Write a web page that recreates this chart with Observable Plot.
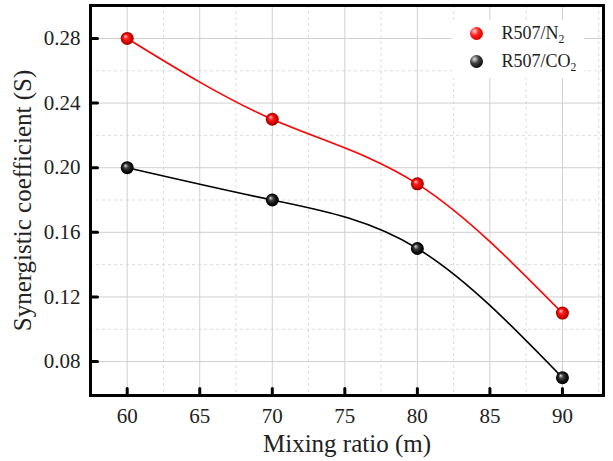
<!DOCTYPE html>
<html><head><meta charset="utf-8">
<script src="https://cdn.jsdelivr.net/npm/d3@7"></script>
<script src="https://cdn.jsdelivr.net/npm/@observablehq/plot@0.6"></script>
<style>
body{margin:0;background:#fff;}
#chart{position:relative;width:613px;height:461px;font-family:"Liberation Serif","Times New Roman",serif;}
#chart svg{display:block;}
.legend{position:absolute;left:452px;top:20px;width:132px;height:58px;background:#fff;font-size:18px;color:#222;}
.item{position:absolute;left:0;height:20px;display:flex;align-items:center;white-space:nowrap;}
.ball{width:13px;height:13px;border-radius:50%;margin-left:17.5px;margin-right:19px;flex:none;}
.ball.red{background:radial-gradient(circle at 35% 32%, #ffd0d0 0%, #ff2020 35%, #e00000 70%, #900000 100%);}
.ball.black{background:radial-gradient(circle at 35% 32%, #e0e0e0 0%, #404040 35%, #101010 70%, #000 100%);}
sub{font-size:65%;vertical-align:-0.35em;line-height:0;}
</style></head><body><div id="chart"></div>
<script>
const ratios = [60, 70, 80, 90];
const n2 = [0.28, 0.23, 0.19, 0.11];
const co2 = [0.20, 0.18, 0.15, 0.07];
const xMajor = [60, 65, 70, 75, 80, 85, 90];
const xMinor = [62.5, 67.5, 72.5, 77.5, 82.5, 87.5, 92.5];
const yMajor = [0.08, 0.12, 0.16, 0.20, 0.24, 0.28];
const yMinor = [0.10, 0.14, 0.18, 0.22, 0.26];

const rowsN2 = ratios.map((m, i) => ({m, s: n2[i]}));
const rowsCO2 = ratios.map((m, i) => ({m, s: co2[i]}));

const tickShape = {draw(c, l) { c.moveTo(0, 0); c.lineTo(0, -l); }};

function defs() {
  const svgNS = "http://www.w3.org/2000/svg";
  const d = document.createElementNS(svgNS, "defs");
  d.innerHTML = `
   <radialGradient id="gRed" cx="0.5" cy="0.5" r="0.5" fx="0.35" fy="0.32">
     <stop offset="0" stop-color="#ffd0d0"/><stop offset="0.35" stop-color="#ff2020"/>
     <stop offset="0.7" stop-color="#e00000"/><stop offset="1" stop-color="#900000"/>
   </radialGradient>
   <radialGradient id="gBlack" cx="0.5" cy="0.5" r="0.5" fx="0.35" fy="0.32">
     <stop offset="0" stop-color="#e0e0e0"/><stop offset="0.35" stop-color="#404040"/>
     <stop offset="0.7" stop-color="#101010"/><stop offset="1" stop-color="#000"/>
   </radialGradient>`;
  return d;
}

const chart = Plot.plot({
  width: 613, height: 461,
  marginLeft: 90, marginRight: 10, marginTop: 5, marginBottom: 66,
  style: {fontFamily: "Liberation Serif, Times New Roman, serif", fontSize: "21px", color: "#222", background: "#fff"},
  x: {domain: [57.47, 92.83]},
  y: {domain: [0.059, 0.3004]},
  marks: [
    defs,
    Plot.gridX(xMinor, {stroke: "#d4d4d4", strokeOpacity: 1, strokeDasharray: "3,3", strokeWidth: 0.8}),
    Plot.gridY(yMinor, {stroke: "#d4d4d4", strokeOpacity: 1, strokeDasharray: "3,3", strokeWidth: 0.8}),
    Plot.gridX(xMajor, {stroke: "#d0d0d0", strokeOpacity: 1, strokeWidth: 1}),
    Plot.gridY(yMajor, {stroke: "#d0d0d0", strokeOpacity: 1, strokeWidth: 1}),
    Plot.line(rowsN2, {x: "m", y: "s", stroke: "#ff0000", strokeWidth: 1.6, curve: "natural"}),
    Plot.line(rowsCO2, {x: "m", y: "s", stroke: "#000", strokeWidth: 1.6, curve: "natural"}),
    Plot.dot(rowsN2, {x: "m", y: "s", r: 6.5, fill: "url(#gRed)", stroke: "none"}),
    Plot.dot(rowsCO2, {x: "m", y: "s", r: 6.5, fill: "url(#gBlack)", stroke: "none"}),
    Plot.axisX(xMajor, {tickSize: 0, tickPadding: 13, fontSize: 21, label: null}),
    Plot.axisY(yMajor, {tickSize: 0, tickPadding: 10, fontSize: 21, label: null, tickFormat: d3.format(".2f")}),
    Plot.vector(xMajor, {x: d => d, frameAnchor: "bottom", length: 7, rotate: 0, anchor: "start", shape: tickShape, stroke: "#000", strokeWidth: 3}),
    Plot.vector(yMajor, {y: d => d, frameAnchor: "left", length: 7, rotate: 90, anchor: "start", shape: tickShape, stroke: "#000", strokeWidth: 3}),
    Plot.frame({stroke: "#000", strokeWidth: 3}),
    Plot.text(["Mixing ratio (m)"], {frameAnchor: "bottom", dy: 48, lineAnchor: "middle", textAnchor: "middle", fontSize: 25, fill: "#222"}),
    Plot.text(["Synergistic coefficient (S)"], {frameAnchor: "left", dx: -68, rotate: -90, lineAnchor: "middle", textAnchor: "middle", fontSize: 25, fill: "#222"})
  ]
});

const root = document.getElementById("chart");
root.appendChild(chart);
const legend = document.createElement("div");
legend.className = "legend";
legend.innerHTML = `
  <div class="item" style="top:3px"><span class="ball red"></span><span>R507/N<sub>2</sub></span></div>
  <div class="item" style="top:31px"><span class="ball black"></span><span>R507/CO<sub>2</sub></span></div>`;
root.appendChild(legend);
</script></body></html>
